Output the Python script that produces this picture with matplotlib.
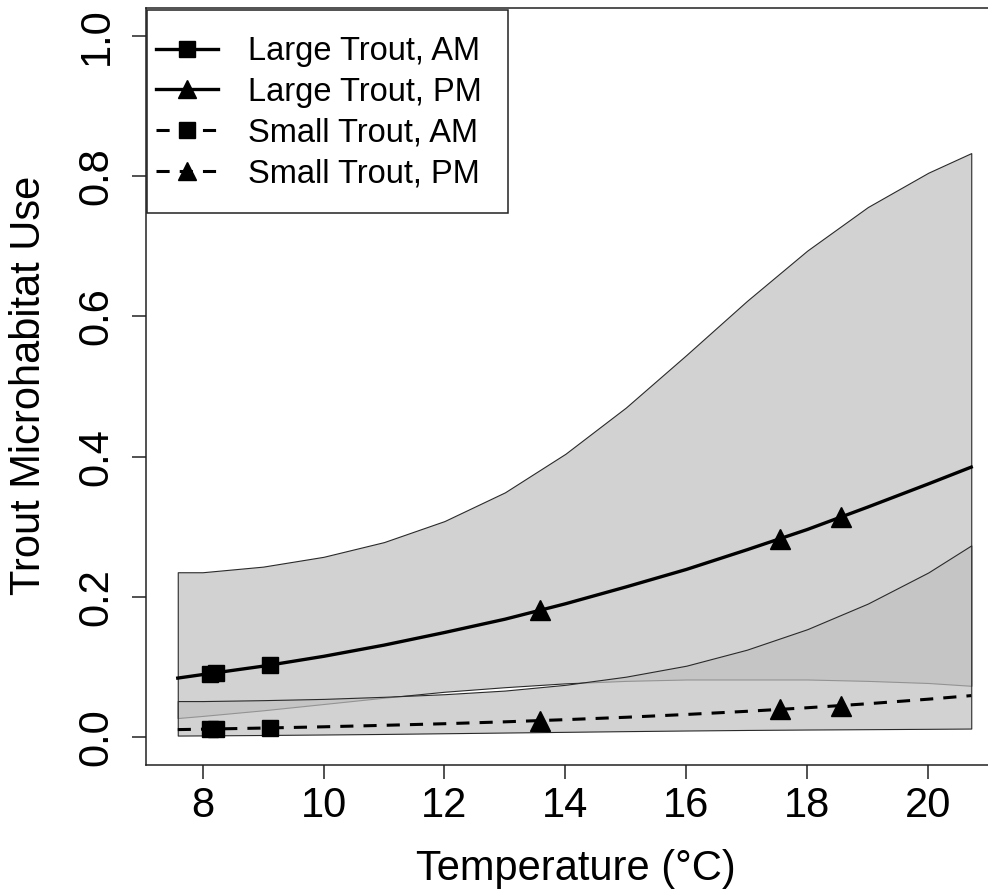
import matplotlib
matplotlib.use("Agg")
import matplotlib.pyplot as plt
from matplotlib.lines import Line2D
from matplotlib.patches import Rectangle

plt.rcParams['font.family'] = ['Liberation Sans', 'DejaVu Sans']

# ---- data ----
temp_grid = [7.59, 8, 9, 10, 11, 12, 13, 14, 15, 16, 17, 18, 19, 20, 20.71]
large_fit = [0.084, 0.089, 0.101, 0.115, 0.131, 0.149, 0.168, 0.190, 0.214, 0.239, 0.267, 0.296, 0.328, 0.361, 0.385]
large_upper = [0.235, 0.235, 0.243, 0.257, 0.278, 0.308, 0.349, 0.404, 0.470, 0.545, 0.622, 0.694, 0.756, 0.805, 0.833]
large_lower = [0.027, 0.030, 0.038, 0.047, 0.056, 0.0645, 0.071, 0.0765, 0.080, 0.082, 0.082, 0.082, 0.080, 0.077, 0.073]
small_fit = [0.0105, 0.0111, 0.0127, 0.0145, 0.0166, 0.0189, 0.0216, 0.0247, 0.0281, 0.0321, 0.0366, 0.0417, 0.0474, 0.0539, 0.0590]
small_upper = [0.0512, 0.0512, 0.0525, 0.0543, 0.0573, 0.0610, 0.0662, 0.0744, 0.0860, 0.1017, 0.1245, 0.1538, 0.1903, 0.2347, 0.2733]
small_lower = [0.0020, 0.0022, 0.0028, 0.0035, 0.0043, 0.0053, 0.0063, 0.0073, 0.0083, 0.0092, 0.0100, 0.0106, 0.0111, 0.0116, 0.0120]

am_temps = [8.13, 8.23, 9.12]
pm_temps = [13.58, 17.54, 18.56]
large_am = [0.090, 0.091, 0.103]
large_pm = [0.181, 0.283, 0.314]
small_am = [0.0112, 0.0113, 0.0129]
small_pm = [0.0234, 0.0393, 0.0448]

legend_labels = ["Large Trout, AM", "Large Trout, PM", "Small Trout, AM", "Small Trout, PM"]
x_ticks = [8, 10, 12, 14, 16, 18, 20]
y_ticks = [0.0, 0.2, 0.4, 0.6, 0.8, 1.0]
y_ticklabels = ["0.0", "0.2", "0.4", "0.6", "0.8", "1.0"]

# ---- figure ----
W, H = 988, 891
fig = plt.figure(figsize=(W / 100, H / 100), dpi=100)
ax_l, ax_r, ax_t, ax_b = 146, 1003, 8, 765
ax = fig.add_axes([ax_l / W, (H - ax_b) / H, (ax_r - ax_l) / W, (ax_b - ax_t) / H])
ax.set_xlim(7.065, 21.235)
ax.set_ylim(-0.04, 1.04)

band_face = (0.753, 0.753, 0.753, 0.70)
edge = '#2a2a2a'
ax.fill_between(temp_grid, large_lower, large_upper, facecolor=band_face,
                edgecolor=edge, linewidth=0.8, zorder=1)
ax.fill_between(temp_grid, small_lower, small_upper, facecolor=band_face,
                edgecolor=edge, linewidth=0.8, zorder=1)

lw_solid = 2.4
lw_dash = 2.2
dash = (0, (4.3, 3.3))
ax.plot(temp_grid, large_fit, color='black', lw=lw_solid, zorder=3)
ax.plot(temp_grid, small_fit, color='black', lw=lw_dash, linestyle=dash, zorder=3)

ms_sq = 11.5
ms_tri = 14
ax.plot(am_temps, large_am, linestyle='none', marker='s', ms=ms_sq, color='black', zorder=4)
ax.plot(pm_temps, large_pm, linestyle='none', marker='^', ms=ms_tri, color='black', zorder=4)
ax.plot(am_temps, small_am, linestyle='none', marker='s', ms=ms_sq, color='black', zorder=4)
ax.plot(pm_temps, small_pm, linestyle='none', marker='^', ms=ms_tri, color='black', zorder=4)

# axes styling
for s in ax.spines.values():
    s.set_linewidth(1.1)
    s.set_color('#222222')
ax.set_xticks(x_ticks)
ax.set_xticklabels([str(t) for t in x_ticks])
ax.set_yticks(y_ticks)
ax.set_yticklabels(y_ticklabels)
ax.tick_params(axis='both', direction='out', length=10, width=1.1, color='#222222',
               labelsize=30)
ax.tick_params(axis='x', pad=5)
ax.tick_params(axis='y', pad=11, labelrotation=90)
for lab in ax.get_yticklabels():
    lab.set_va('center')
    lab.set_ha('right')

ax.set_xlabel("Temperature (°C)", fontsize=30, va='baseline')
ax.xaxis.set_label_coords(0.502, (ax_b - 880) / (ax_b - ax_t))
ax.set_ylabel("Trout Microhabitat Use", fontsize=30, va='center')
ax.yaxis.set_label_coords((29 - ax_l) / (ax_r - ax_l), 0.5 + (386.5 - 385) / (ax_b - ax_t))

# legend box
bx0, by0, bx1, by1 = 147, 10, 508, 213
rect = Rectangle(((bx0) / W, (H - by1) / H), (bx1 - bx0) / W, (by1 - by0) / H,
                 transform=fig.transFigure, facecolor='white', edgecolor='#222222',
                 linewidth=1.1, zorder=5)
fig.patches.append(rect)

handles = [
    Line2D([], [], color='black', lw=lw_solid, marker='s', ms=ms_sq * 0.95),
    Line2D([], [], color='black', lw=lw_solid, marker='^', ms=ms_tri * 0.9),
    Line2D([], [], color='black', lw=lw_dash, linestyle=dash, marker='s', ms=ms_sq * 0.95),
    Line2D([], [], color='black', lw=lw_dash, linestyle=dash, marker='^', ms=ms_tri * 0.9),
]
leg = fig.legend(handles, legend_labels, loc='upper left',
                 bbox_to_anchor=(156 / W, 1 - 36 / H), bbox_transform=fig.transFigure,
                 frameon=False, fontsize=23.5, borderpad=0, borderaxespad=0,
                 handlelength=1.9, handletextpad=0.92, labelspacing=0.30, numpoints=1)
leg.set_zorder(6)

fig.savefig("out.png", dpi=100)
